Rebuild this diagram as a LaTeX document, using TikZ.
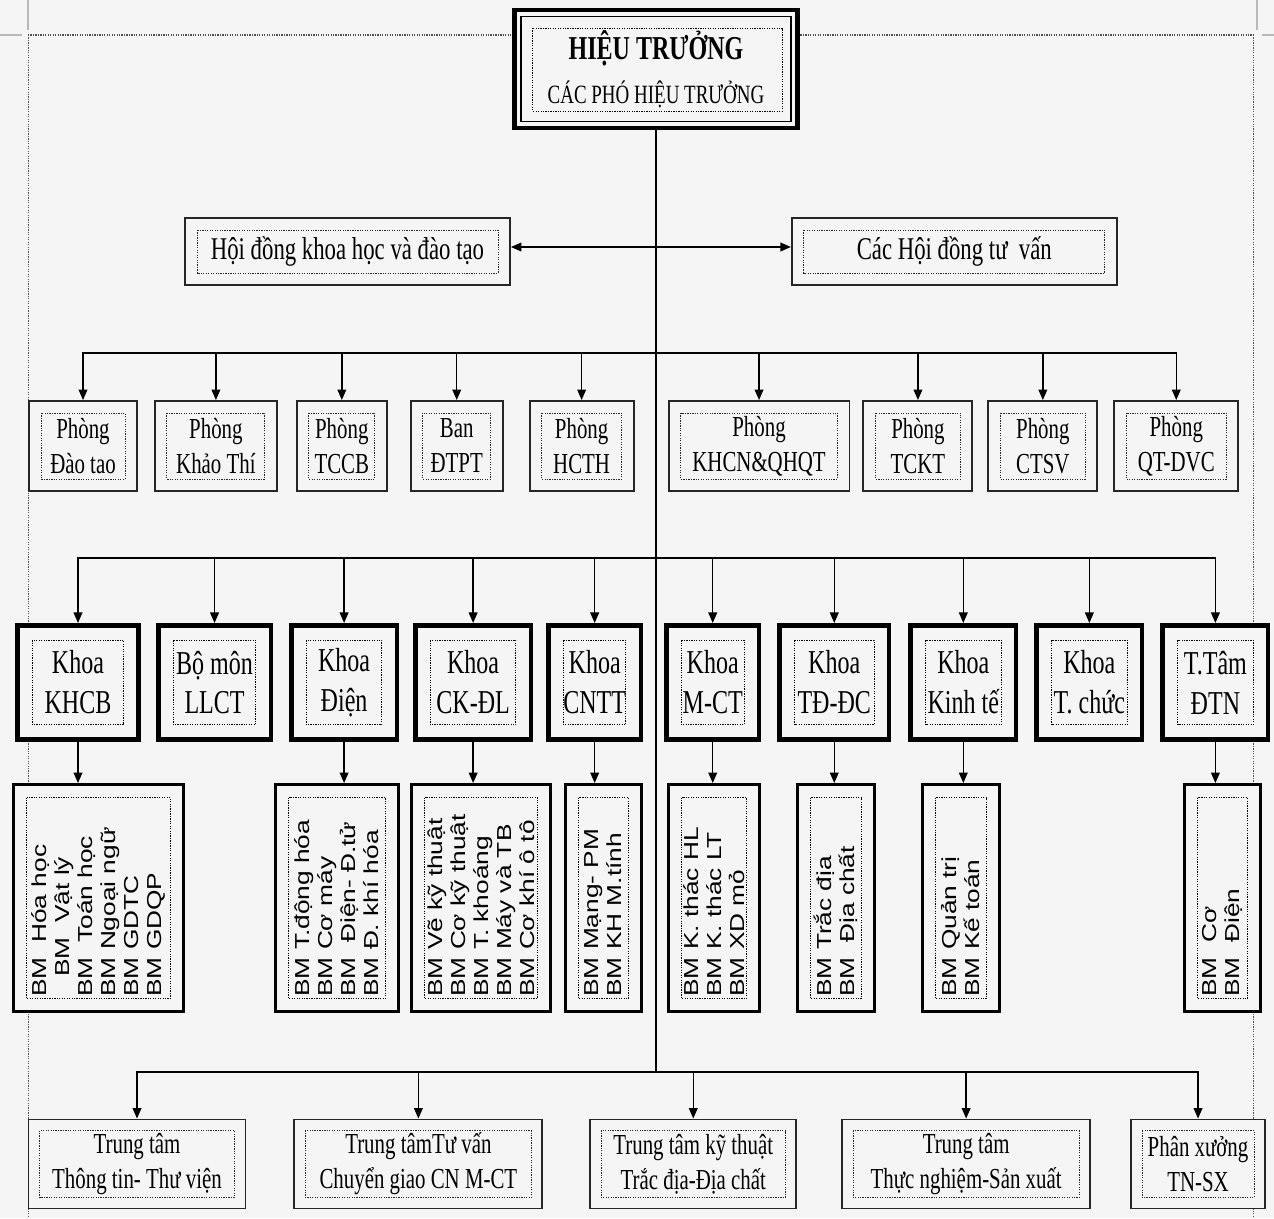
\documentclass[tikz,border=0pt]{standalone}
\usepackage{fontspec}
\setmainfont{Liberation Serif}[FakeStretch=0.72]
\newfontfamily\bmfont{Liberation Sans}[FakeStretch=1.3]
\usepackage{tikz}
\usetikzlibrary{arrows.meta,positioning,calc}
\definecolor{paper}{RGB}{245,245,245}
\definecolor{framegray}{RGB}{80,80,80}

\begin{document}
\begin{tikzpicture}[
  x=0.02cm,y=-0.02cm,
  dotline/.style={line width=0.5pt,dash pattern=on 0.7pt off 0.7pt},
  dotframe/.style={path picture={\draw[dotline]
      ([shift={(#1,-#1)}]path picture bounding box.north west) rectangle
      ([shift={(-#1,#1)}]path picture bounding box.south east);}},
  box/.style={rectangle,draw=black!85,fill=paper,line width=1.1pt,inner sep=0pt,
              align=center,font=\fontsize{16.5}{19.9}\selectfont},
  topbox/.style={box,draw=black,line width=2.8pt,minimum width=5.66cm,minimum height=2.36cm,
      path picture={
        \draw[line width=0.8pt] ([shift={(0.13cm,-0.13cm)}]path picture bounding box.north west)
            rectangle ([shift={(-0.13cm,0.13cm)}]path picture bounding box.south east);
        \draw[dotline] ([shift={(0.36cm,-0.36cm)}]path picture bounding box.north west)
            rectangle ([shift={(-0.3cm,0.34cm)}]path picture bounding box.south east);}},
  council/.style={box,minimum width=6.5cm,minimum height=1.34cm,dotframe=0.24cm,
                  font=\fontsize{18}{21}\selectfont},
  phong/.style={box,minimum height=1.8cm,dotframe=0.24cm},
  khoa/.style={box,draw=black,line width=2.6pt,minimum height=2.29cm,dotframe=0.3cm,
               font=\fontsize{19}{22.7}\selectfont},
  bomon/.style={box,draw=black,line width=1.7pt,minimum height=4.54cm,dotframe=0.26cm},
  bmtext/.style={rotate=90,anchor=west,align=left,inner sep=0pt,
                 font=\bmfont\fontsize{11.5}{13.1}\selectfont},
  ttbox/.style={box,minimum height=1.78cm,dotframe=0.22cm},
  link/.style={line width=0.8pt},
  arrow/.style={-{Triangle[length=6pt,width=5pt]},line width=0.8pt},
]

\useasboundingbox[fill=paper] (0,0) rectangle (1274,1218);
\draw[gray!55,line width=1pt] (28,0) -- (28,30) (0,35) -- (22,35)
                              (1257,0) -- (1257,30) (1262,35) -- (1274,35);
\draw[framegray,dotline,line width=0.7pt] (28,35) -- (1253,35);
\draw[framegray,dotline] (28,35) -- (28,1218) (1253,35) -- (1253,1218);

\node[topbox] (ht) at (656,69)
  {{\bfseries\fontsize{19}{23}\selectfont HIỆU TRƯỞNG}\\[5pt]{\fontsize{15}{18}\selectfont CÁC PHÓ HIỆU TRƯỞNG}};

\node[council] (hd1) at (347.5,251.5) {Hội đồng khoa học và đào tạo};
\node[council, right=5.6cm of hd1] (hd2) {Các Hội đồng tư\ \ vấn};

\node[phong,minimum width=2.16cm] (p1) at (83,446) {Phòng\\Đào tao};
\node[phong,minimum width=2.44cm, right=0.32cm of p1] (p2) {Phòng\\Khảo Thí};
\node[phong,minimum width=1.8cm,  right=0.36cm of p2] (p3) {Phòng\\TCCB};
\node[phong,minimum width=1.84cm, right=0.44cm of p3] (p4) {Ban\\ĐTPT};
\node[phong,minimum width=2.08cm, right=0.5cm of p4]  (p5) {Phòng\\HCTH};
\node[phong,minimum width=3.62cm, right=0.66cm of p5] (p6) {Phòng\\KHCN\&QHQT};
\node[phong,minimum width=2.18cm, right=0.24cm of p6] (p7) {Phòng\\TCKT};
\node[phong,minimum width=2.18cm, right=0.28cm of p7] (p8) {Phòng\\CTSV};
\node[phong,minimum width=2.48cm, right=0.3cm of p8]  (p9) {Phòng\\QT-DVC};

\node[khoa,minimum width=2.43cm] (k1) at (78,682.5) {Khoa\\KHCB};
\node[khoa,minimum width=2.25cm, right=0.3cm of k1]  (k2)  {Bộ môn\\LLCT};
\node[khoa,minimum width=2.11cm, right=0.32cm of k2] (k3)  {Khoa\\Điện};
\node[khoa,minimum width=2.31cm, right=0.28cm of k3] (k4)  {Khoa\\CK-ĐL};
\node[khoa,minimum width=1.85cm, right=0.26cm of k4] (k5)  {Khoa\\CNTT};
\node[khoa,minimum width=1.85cm, right=0.42cm of k5] (k6)  {Khoa\\M-CT};
\node[khoa,minimum width=2.19cm, right=0.32cm of k6] (k7)  {Khoa\\TĐ-ĐC};
\node[khoa,minimum width=2.11cm, right=0.34cm of k7] (k8)  {Khoa\\Kinh tế};
\node[khoa,minimum width=2.11cm, right=0.32cm of k8] (k9)  {Khoa\\T. chức};
\node[khoa,minimum width=2.11cm, right=0.32cm of k9] (k10) {T.Tâm\\ĐTN};

\node[bomon,minimum width=3.4cm]  (b1)  at (98.5,898) {};
\node[bomon,minimum width=2.46cm] (b3)  at (337,898) {};
\node[bomon,minimum width=2.78cm] (b4)  at (481,898) {};
\node[bomon,minimum width=1.52cm] (b5)  at (603.5,898) {};
\node[bomon,minimum width=1.82cm] (b6)  at (714,898) {};
\node[bomon,minimum width=1.54cm] (b7)  at (836,898) {};
\node[bomon,minimum width=1.54cm] (b8)  at (961,898) {};
\node[bomon,minimum width=1.52cm] (b10) at (1222.5,898) {};

\node[bmtext] (t1) at ([yshift=0.32cm]b1.south)
  {BM\ \ Hóa học\\\hspace*{0.4cm}BM\ \ Vật lý\\BM\ \ Toán học\\BM Ngoại ngữ\\BM GDTC\\BM GDQP};
\node[bmtext] (t3) at ([yshift=0.32cm]b3.south)
  {BM T.động hóa\\BM Cơ máy\\BM\ \ Điện- Đ.tử\\BM Đ. khí hóa};
\node[bmtext] (t4) at ([yshift=0.32cm]b4.south)
  {BM Vẽ kỹ thuật\\BM Cơ kỹ thuật\\BM T. khoáng\\BM Máy và TB\\BM Cơ khí ô tô};
\node[bmtext] (t5) at ([yshift=0.32cm]b5.south) {BM Mạng- PM\\BM KH M.tính};
\node[bmtext] (t6) at ([yshift=0.32cm]b6.south) {BM K. thác HL\\BM K. thác LT\\BM XD mỏ};
\node[bmtext] (t7) at ([yshift=0.32cm]b7.south) {BM Trắc địa\\BM\ \ Địa chất};
\node[bmtext] (t8) at ([yshift=0.32cm]b8.south) {BM Quản trị\\BM Kế toán};
\node[bmtext] (t10) at ([yshift=0.32cm]b10.south) {BM\ \ Cơ\\BM\ \ Điện};

\node[ttbox,minimum width=4.34cm] (c1) at (137,1164) {Trung tâm\\Thông tin- Thư viện};
\node[ttbox,minimum width=4.96cm, right=0.94cm of c1] (c2) {Trung tâmTư vấn\\Chuyển giao CN M-CT};
\node[ttbox,minimum width=4.12cm, right=0.92cm of c2] (c3) {Trung tâm kỹ thuật\\Trắc địa-Địa chất};
\node[ttbox,minimum width=4.96cm, right=0.88cm of c3] (c4) {Trung tâm\\Thực nghiệm-Sản xuất};
\node[ttbox,minimum width=2.68cm, right=0.78cm of c4] (c5) {Phân xưởng\\TN-SX};

\draw[link] (ht.south) -- (ht.south |- 0,1072);
\draw[arrow] (ht.south |- 0,247) -- (hd1.east |- 0,247);
\draw[arrow] (ht.south |- 0,247) -- (hd2.west |- 0,247);
\foreach \n in {1,...,9}
  \draw[arrow] (ht.south |- 0,353) -| (p\n.north);
\foreach \n in {1,...,10}
  \draw[arrow] (ht.south |- 0,558) -| (k\n.north);
\foreach \n in {1,3,4,5,6,7,8,10}
  \draw[arrow] (k\n.south) -- (k\n.south |- b\n.north);
\foreach \n in {1,...,5}
  \draw[arrow] (ht.south |- 0,1072) -| (c\n.north);

\end{tikzpicture}
\end{document}
